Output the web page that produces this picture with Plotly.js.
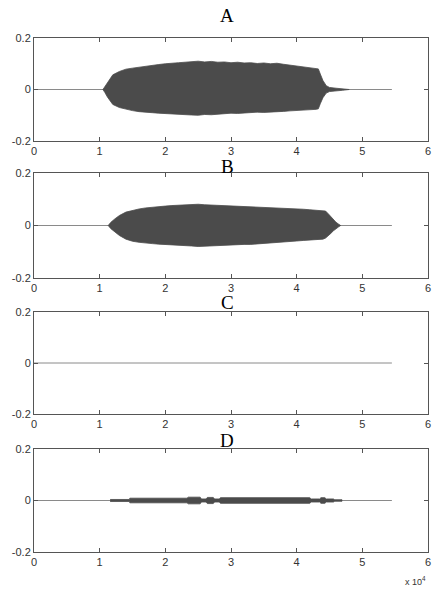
<!DOCTYPE html>
<html>
<head>
<meta charset="utf-8">
<script src="https://cdn.plot.ly/plotly-3.0.1.min.js"></script>
<style>html,body{margin:0;padding:0;background:#fff;}#chart{width:432px;height:596px;}</style>
</head>
<body>
<div id="chart"></div>
<script>
// ---- data (sample index in units of 1e4) ----
const panelTitles = ["A", "B", "C", "D"];
const xTicks = [0, 1, 2, 3, 4, 5, 6];
const yTicks = [-0.2, 0, 0.2];
const yTickLabels = ["-0.2", "0", "0.2"];
const signalEnd = 5.45;

const aX = [1.05, 1.08, 1.12, 1.16, 1.2, 1.3, 1.4, 1.5, 1.6, 1.7, 1.8, 1.9, 2.0, 2.1, 2.2, 2.3, 2.4, 2.5, 2.6, 2.7, 2.8, 2.9, 3.0, 3.1, 3.2, 3.3, 3.4, 3.5, 3.6, 3.7, 3.8, 3.9, 4.0, 4.1, 4.2, 4.3, 4.33, 4.36, 4.4, 4.45, 4.5, 4.6, 4.7, 4.8];
const aUpper = [0, 0.012, 0.03, 0.045, 0.057, 0.07, 0.079, 0.083, 0.087, 0.09, 0.094, 0.097, 0.1, 0.101, 0.104, 0.106, 0.108, 0.11, 0.107, 0.109, 0.106, 0.107, 0.104, 0.106, 0.103, 0.104, 0.101, 0.103, 0.1, 0.102, 0.098, 0.095, 0.091, 0.087, 0.084, 0.082, 0.08, 0.06, 0.035, 0.015, 0.008, 0.005, 0.003, 0];
const aLower = [0, -0.012, -0.03, -0.046, -0.058, -0.07, -0.077, -0.082, -0.086, -0.089, -0.09, -0.092, -0.093, -0.095, -0.096, -0.098, -0.099, -0.1, -0.097, -0.098, -0.095, -0.094, -0.092, -0.093, -0.09, -0.09, -0.088, -0.089, -0.087, -0.087, -0.085, -0.083, -0.081, -0.08, -0.078, -0.077, -0.075, -0.055, -0.032, -0.014, -0.008, -0.005, -0.003, 0];

const bX = [1.13, 1.17, 1.23, 1.3, 1.4, 1.5, 1.6, 1.7, 1.8, 1.9, 2.0, 2.1, 2.2, 2.3, 2.4, 2.5, 2.6, 2.7, 2.8, 2.9, 3.0, 3.1, 3.2, 3.3, 3.4, 3.5, 3.6, 3.7, 3.8, 3.9, 4.0, 4.1, 4.2, 4.3, 4.4, 4.44, 4.48, 4.52, 4.56, 4.6, 4.64, 4.67];
const bUpper = [0, 0.012, 0.025, 0.038, 0.051, 0.058, 0.063, 0.067, 0.07, 0.072, 0.074, 0.076, 0.077, 0.078, 0.079, 0.081, 0.079, 0.078, 0.078, 0.077, 0.075, 0.074, 0.073, 0.072, 0.071, 0.07, 0.069, 0.068, 0.066, 0.065, 0.063, 0.062, 0.06, 0.059, 0.058, 0.055, 0.045, 0.033, 0.022, 0.012, 0.005, 0];
const bLower = [0, -0.012, -0.025, -0.038, -0.052, -0.06, -0.064, -0.067, -0.069, -0.071, -0.072, -0.074, -0.075, -0.077, -0.078, -0.08, -0.078, -0.077, -0.076, -0.075, -0.074, -0.073, -0.072, -0.072, -0.07, -0.069, -0.067, -0.065, -0.063, -0.061, -0.059, -0.057, -0.055, -0.053, -0.052, -0.048, -0.04, -0.03, -0.02, -0.011, -0.005, 0];

const cX = [];
const cUpper = [];
const cLower = [];

const dX = [1.16, 1.45, 1.46, 2.33, 2.35, 2.53, 2.55, 2.62, 2.64, 2.73, 2.75, 2.82, 2.84, 4.2, 4.22, 4.35, 4.37, 4.43, 4.45, 4.56, 4.58, 4.69];
const dUpper = [0.004, 0.004, 0.009, 0.009, 0.013, 0.013, 0.006, 0.006, 0.012, 0.012, 0.006, 0.006, 0.011, 0.011, 0.006, 0.006, 0.011, 0.011, 0.006, 0.006, 0.003, 0.003];
const dLower = [-0.004, -0.004, -0.009, -0.009, -0.013, -0.013, -0.006, -0.006, -0.012, -0.012, -0.006, -0.006, -0.011, -0.011, -0.006, -0.006, -0.011, -0.011, -0.006, -0.006, -0.003, -0.003];

const panels = [
  {x: aX, up: aUpper, lo: aLower},
  {x: bX, up: bUpper, lo: bLower},
  {x: cX, up: cUpper, lo: cLower},
  {x: dX, up: dUpper, lo: dLower}
];

// ---- layout geometry ----
const H = 596;
const boxes = [[38, 141], [173, 278], [312, 414], [449, 552]];
const titleY = [15, 166, 302, 440];

const traces = [];
const layout = {
  width: 432, height: 596,
  margin: {l: 34, r: 4, t: 0, b: 0},
  paper_bgcolor: "#fff", plot_bgcolor: "#fff",
  showlegend: false,
  font: {family: "Liberation Sans, Arial, sans-serif", size: 11, color: "#333"},
  annotations: []
};

panels.forEach((p, i) => {
  const n = i === 0 ? "" : String(i + 1);
  const xa = "x" + n, ya = "y" + n;
  traces.push({
    x: [0, signalEnd], y: [0, 0], xaxis: xa, yaxis: ya,
    mode: "lines", line: {color: "#8a8a8a", width: 1}, hoverinfo: "skip"
  });
  if (p.x.length) {
    traces.push({
      x: p.x.concat(p.x.slice().reverse()),
      y: p.up.concat(p.lo.slice().reverse()),
      xaxis: xa, yaxis: ya, mode: "lines", fill: "toself",
      fillcolor: "#4b4b4b", line: {color: "#4b4b4b", width: 0.8}, hoverinfo: "skip"
    });
  }
  const ax = {
    range: [0, 6], tickvals: xTicks, ticktext: xTicks.map(String),
    ticks: "inside", ticklen: 4, tickcolor: "#555", tickwidth: 1,
    showline: true, linecolor: "#555", linewidth: 1, mirror: "ticks",
    showgrid: false, zeroline: false, fixedrange: true,
    anchor: ya, domain: [0, 1]
  };
  const ay = {
    range: [-0.2, 0.2], tickvals: yTicks, ticktext: yTickLabels,
    ticks: "inside", ticklen: 4, tickcolor: "#555", tickwidth: 1,
    showline: true, linecolor: "#555", linewidth: 1, mirror: "ticks",
    showgrid: false, zeroline: false, fixedrange: true,
    anchor: xa, domain: [1 - boxes[i][1] / H, 1 - boxes[i][0] / H]
  };
  layout["xaxis" + n] = ax;
  layout["yaxis" + n] = ay;
  layout.annotations.push({
    text: panelTitles[i], xref: "paper", yref: "paper",
    x: 0.49, y: 1 - titleY[i] / H, xanchor: "center", yanchor: "middle",
    showarrow: false, font: {family: "Liberation Serif, Times New Roman, serif", size: 19, color: "#000"}
  });
});

layout.annotations.push({
  text: "x 10<sup>4</sup>", xref: "paper", yref: "paper",
  x: 1.0, y: 1 - 581 / H, xanchor: "right", yanchor: "middle",
  showarrow: false, font: {family: "Liberation Sans, Arial, sans-serif", size: 9, color: "#333"}
});

Plotly.newPlot("chart", traces, layout, {staticPlot: true, displayModeBar: false});
</script>
</body>
</html>
